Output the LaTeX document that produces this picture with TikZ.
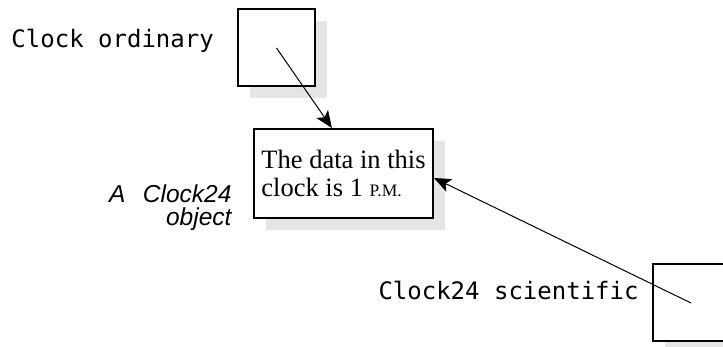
\documentclass[tikz,border=0pt]{standalone}
\usepackage{fontspec}
\setmainfont{Liberation Serif}
\setsansfont{Liberation Sans}
\setmonofont{DejaVu Sans Mono}
\usetikzlibrary{arrows.meta,shadows,calc}

\begin{document}
\begin{tikzpicture}[x=1pt,y=-1pt,line width=1pt,>=Stealth,
  objbox/.style={draw,line width=2pt,fill=white,inner sep=0pt,
    drop shadow={shadow xshift=12pt,shadow yshift=-12pt,fill=black!10,opacity=1}},
  varname/.style={font=\ttfamily\fontsize{24}{28}\selectfont,inner sep=0pt}]
\clip (0,0) rectangle (723,347);
% ---------- variables ----------
\node[objbox,minimum size=77pt] (ordinary) at (276.5,48) {};
\node[objbox,minimum size=77pt] (scientific) at (691,303) {};
\node[varname,anchor=base west] (ordlabel) at (11,48) {Clock ordinary};
\node[varname,anchor=base west] (scilabel) at (378,300) {Clock24 scientific};
% ---------- the object ----------
\node[objbox,minimum width=179pt,minimum height=89pt,align=left,
  font=\fontsize{26.5}{28.5}\selectfont] (data) at (343.5,173.5)
  {The data in this\\clock is 1 {\fontsize{17.5}{20}\selectfont P.M.}};
\node[font=\sffamily\itshape\fontsize{24.5}{23}\selectfont,align=right,anchor=base east,inner sep=0pt]
  (objlabel) at (232,226) {A\hspace{0.72em}Clock24\\object};
% ---------- references ----------
\draw[-{Stealth[length=17pt,width=14pt,inset=4pt]}]
  (ordinary.center) -- ($(data.north west)!0.436!(data.north east)$);
\draw[-{Stealth[length=17pt,width=14pt,inset=4pt]}]
  (scientific.center) -- ([yshift=-4.5pt]data.east);
\end{tikzpicture}
\end{document}
